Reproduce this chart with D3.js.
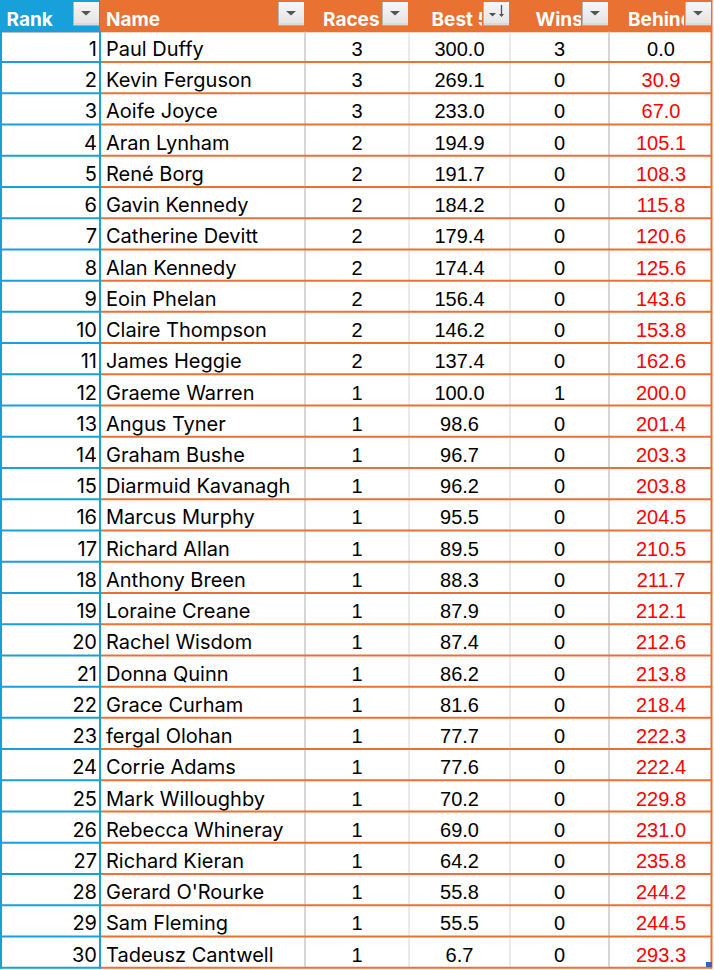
<!DOCTYPE html>
<html><head><meta charset="utf-8">
<script src="https://cdn.jsdelivr.net/npm/d3@7/dist/d3.min.js"></script>
<style>html,body{margin:0;padding:0;background:#fff;overflow:hidden}</style>
</head><body><svg id="c" width="714" height="970"></svg>
<script>
const headers = ["Rank","Name","Races","Best 5","Wins","Behind"];
const ranks = d3.range(1,31);
const names = ["Paul Duffy","Kevin Ferguson","Aoife Joyce","Aran Lynham","René Borg","Gavin Kennedy","Catherine Devitt","Alan Kennedy","Eoin Phelan","Claire Thompson","James Heggie","Graeme Warren","Angus Tyner","Graham Bushe","Diarmuid Kavanagh","Marcus Murphy","Richard Allan","Anthony Breen","Loraine Creane","Rachel Wisdom","Donna Quinn","Grace Curham","fergal Olohan","Corrie Adams","Mark Willoughby","Rebecca Whineray","Richard Kieran","Gerard O'Rourke","Sam Fleming","Tadeusz Cantwell"];
const races = [3,3,3,2,2,2,2,2,2,2,2,1,1,1,1,1,1,1,1,1,1,1,1,1,1,1,1,1,1,1];
const best5 = [300.0,269.1,233.0,194.9,191.7,184.2,179.4,174.4,156.4,146.2,137.4,100.0,98.6,96.7,96.2,95.5,89.5,88.3,87.9,87.4,86.2,81.6,77.7,77.6,70.2,69.0,64.2,55.8,55.5,6.7];
const wins = [3,0,0,0,0,0,0,0,0,0,0,1,0,0,0,0,0,0,0,0,0,0,0,0,0,0,0,0,0,0];
const behind = [0.0,30.9,67.0,105.1,108.3,115.8,120.6,125.6,143.6,153.8,162.6,200.0,201.4,203.3,203.8,204.5,210.5,211.7,212.1,212.6,213.8,218.4,222.3,222.4,229.8,231.0,235.8,244.2,244.5,293.3];

const ORANGE="#E97132", BLUE="#17A0D9", GREY="#D6D6D6";
const svg = d3.select("#c");
// column layout (edges)
const colEdges = [0,100,305,409,510,609,712];
const x = d3.scaleOrdinal().domain(headers).range(colEdges.slice(0,6));
const xr = d3.scaleOrdinal().domain(headers).range(colEdges.slice(1));
const y = d3.scaleBand().domain(ranks).range([30.8,967.7]).paddingInner(0).paddingOuter(0);
const step = y.step();
const rows = ranks.map((r,i)=>({rank:r,name:names[i],races:races[i],best:best5[i],wins:wins[i],behind:behind[i]}));

// header background
svg.append("rect").attr("x",0).attr("y",0).attr("width",712).attr("height",y(1)+1.5).attr("fill",ORANGE);
svg.append("rect").attr("x",0).attr("y",0).attr("width",xr("Rank")).attr("height",y(1)+1.5).attr("fill",BLUE);

// vertical grey lines
const vlines=[{h:"Races",w:2},{h:"Best 5",w:1},{h:"Wins",w:1},{h:"Behind",w:2}];
svg.selectAll(".vl").data(vlines).join("line")
  .attr("x1",d=>x(d.h)).attr("x2",d=>x(d.h))
  .attr("y1",y(1)+1).attr("y2",y(30)+step).attr("stroke",GREY).attr("stroke-width",d=>d.w);

// horizontal orange lines
svg.selectAll(".hl").data(rows).join("line")
  .attr("x1",xr("Rank")).attr("x2",712)
  .attr("y1",d=>y(d.rank)+step).attr("y2",d=>y(d.rank)+step)
  .attr("stroke",ORANGE).attr("stroke-width",2);
// rank column blue boxes
svg.selectAll(".hb").data(rows).join("line")
  .attr("x1",0).attr("x2",xr("Rank")+1)
  .attr("y1",d=>y(d.rank)+step).attr("y2",d=>y(d.rank)+step)
  .attr("stroke",BLUE).attr("stroke-width",2);
svg.append("line").attr("x1",1).attr("x2",1).attr("y1",0).attr("y2",y(30)+step+1).attr("stroke",BLUE).attr("stroke-width",2);
svg.append("line").attr("x1",100).attr("x2",100).attr("y1",y(1)).attr("y2",y(30)+step+1).attr("stroke",BLUE).attr("stroke-width",2);
// right orange border
svg.append("line").attr("x1",711.5).attr("x2",711.5).attr("y1",0).attr("y2",y(30)+step+1).attr("stroke",ORANGE).attr("stroke-width",2);
// resize handle
svg.append("rect").attr("x",706).attr("y",962).attr("width",6).attr("height",5).attr("fill","#3F5FBF");

// header text with clipping
const defs = svg.append("defs");
const grad = defs.append("linearGradient").attr("id","bg").attr("x1",0).attr("y1",0).attr("x2",0).attr("y2",1);
grad.append("stop").attr("offset","0%").attr("stop-color","#F7F7F7");
grad.append("stop").attr("offset","100%").attr("stop-color","#E2E2E2");
const hdrStart = {"Rank":6.5,"Name":106,"Races":323,"Best 5":431.5,"Wins":535.5,"Behind":628};
headers.forEach((h,i)=>{
  const bx = xr(h)-27;
  defs.append("clipPath").attr("id","cp"+i).append("rect").attr("x",x(h)).attr("y",0).attr("width",bx-x(h)-1).attr("height",32);
  svg.append("text").attr("x",hdrStart[h]).attr("y",26).attr("clip-path","url(#cp"+i+")")
    .attr("fill","#fff").attr("font-family","Inter, 'Open Sans', sans-serif").attr("font-weight",700)
    .attr("font-size",19).text(h);
  const g = svg.append("g").attr("transform",`translate(${bx},2)`);
  g.append("rect").attr("x",0).attr("y",0).attr("width",26).attr("height",24).attr("fill","url(#bg)");
  g.append("line").attr("x1",0.5).attr("x2",0.5).attr("y1",0).attr("y2",24).attr("stroke","#B4B4B4");
  g.append("line").attr("x1",0).attr("x2",26).attr("y1",23.5).attr("y2",23.5).attr("stroke","#A8A8A8");
  g.append("line").attr("x1",1).attr("x2",26).attr("y1",22).attr("y2",22).attr("stroke","#CFCFCF");
  if(h==="Best 5"){
    g.append("path").attr("d","M6,11 L13,11 L9.5,14.5 Z").attr("fill","#505050");
    g.append("line").attr("x1",18.5).attr("x2",18.5).attr("y1",3).attr("y2",14).attr("stroke","#505050").attr("stroke-width",1.3);
    g.append("path").attr("d","M16,12 L21,12 L18.5,15 Z").attr("fill","#505050");
  } else {
    g.append("path").attr("d","M8,9 L18,9 L13,13.5 Z").attr("fill","#555");
  }
});

// cell text
const tf = "Inter, 'Open Sans', sans-serif", nf = "'Liberation Sans', Arial, sans-serif";
const base = d => y(d.rank)+step-6;
const cx = h => (x(h)+xr(h))/2;
svg.selectAll(".rk").data(rows).join("text").attr("x",97).attr("y",base).attr("text-anchor","end")
  .attr("font-family",tf).attr("font-size",20).attr("fill","#000").text(d=>d.rank);
svg.selectAll(".nm").data(rows).join("text").attr("x",106).attr("y",base)
  .attr("font-family",tf).attr("font-size",20).attr("fill","#000").text(d=>d.name);
svg.selectAll(".ra").data(rows).join("text").attr("x",cx("Races")).attr("y",base).attr("text-anchor","middle")
  .attr("font-family",nf).attr("font-size",20).attr("fill","#000").text(d=>d.races);
svg.selectAll(".bs").data(rows).join("text").attr("x",cx("Best 5")).attr("y",base).attr("text-anchor","middle")
  .attr("font-family",nf).attr("font-size",20).attr("fill","#000").text(d=>d3.format(".1f")(d.best));
svg.selectAll(".wn").data(rows).join("text").attr("x",cx("Wins")).attr("y",base).attr("text-anchor","middle")
  .attr("font-family",nf).attr("font-size",20).attr("fill","#000").text(d=>d.wins);
svg.selectAll(".bh").data(rows).join("text").attr("x",cx("Behind")+0.5).attr("y",base).attr("text-anchor","middle")
  .attr("font-family",nf).attr("font-size",20).attr("fill",d=>d.behind>0?"#FF0000":"#000").text(d=>d3.format(".1f")(d.behind));
</script></body></html>
